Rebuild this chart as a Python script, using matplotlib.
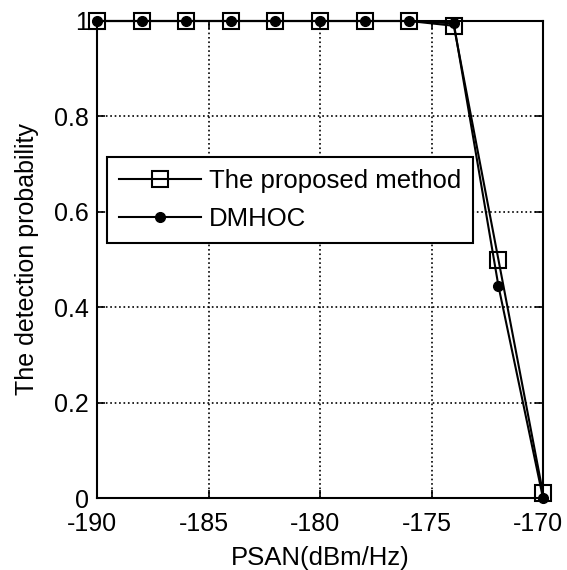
import matplotlib
matplotlib.use('Agg')
import matplotlib.pyplot as plt
from matplotlib.transforms import ScaledTranslation

plt.rcParams['font.family'] = ['Liberation Sans', 'DejaVu Sans']
plt.rcParams['axes.unicode_minus'] = False

# PSAN (dBm/Hz)
psan = [-190, -188, -186, -184, -182, -180, -178, -176, -174, -172, -170]
# detection probability
proposed = [1, 1, 1, 1, 1, 1, 1, 1, 0.99, 0.50, 0.01]
dmhoc = [1, 1, 1, 1, 1, 1, 1, 1, 0.995, 0.445, 0.0]

fig = plt.figure(figsize=(5.67, 5.70), dpi=100)
ax = fig.add_axes([97/567, 1 - 498/570, 446/567, 477/570])

ax.plot(psan, proposed, 'k-s', markerfacecolor='none', markersize=12,
        markeredgewidth=1.5, linewidth=1.5, label='The proposed method', clip_on=False)
ax.plot(psan, dmhoc, 'k-o', markersize=7, linewidth=1.5, label='DMHOC', clip_on=False)

ax.set_xlim(-190, -170)
ax.set_ylim(0, 1)
ax.set_xticks([-190, -185, -180, -175, -170])
ax.set_yticks([0, 0.2, 0.4, 0.6, 0.8, 1])
ax.set_yticklabels(['0', '0.2', '0.4', '0.6', '0.8', '1'])
ax.grid(True, color='black', linestyle=':', linewidth=1.2)
ax.tick_params(direction='in', length=6, labelsize=18, width=1.2,
               top=True, right=True)
ax.tick_params(axis='x', pad=10)
ax.tick_params(axis='y', pad=6)
for s in ax.spines.values():
    s.set_linewidth(1.5)

# matlab puts the x labels a bit left of the tick
shift = ScaledTranslation(-5/100, 0, fig.dpi_scale_trans)
for lab in ax.get_xticklabels():
    lab.set_transform(lab.get_transform() + shift)

ax.set_xlabel('PSAN(dBm/Hz)', fontsize=18.5, labelpad=7)
ax.set_ylabel('The detection probability', fontsize=18, labelpad=11)

leg = ax.legend(loc='upper left', bbox_to_anchor=(0.0224, 0.715), fontsize=18.5,
                fancybox=False, edgecolor='black', framealpha=1,
                handlelength=3.2, borderpad=0.45, labelspacing=0.58,
                handletextpad=0.32, borderaxespad=0)
leg.get_frame().set_linewidth(1.5)

fig.savefig('out.png', dpi=100)
